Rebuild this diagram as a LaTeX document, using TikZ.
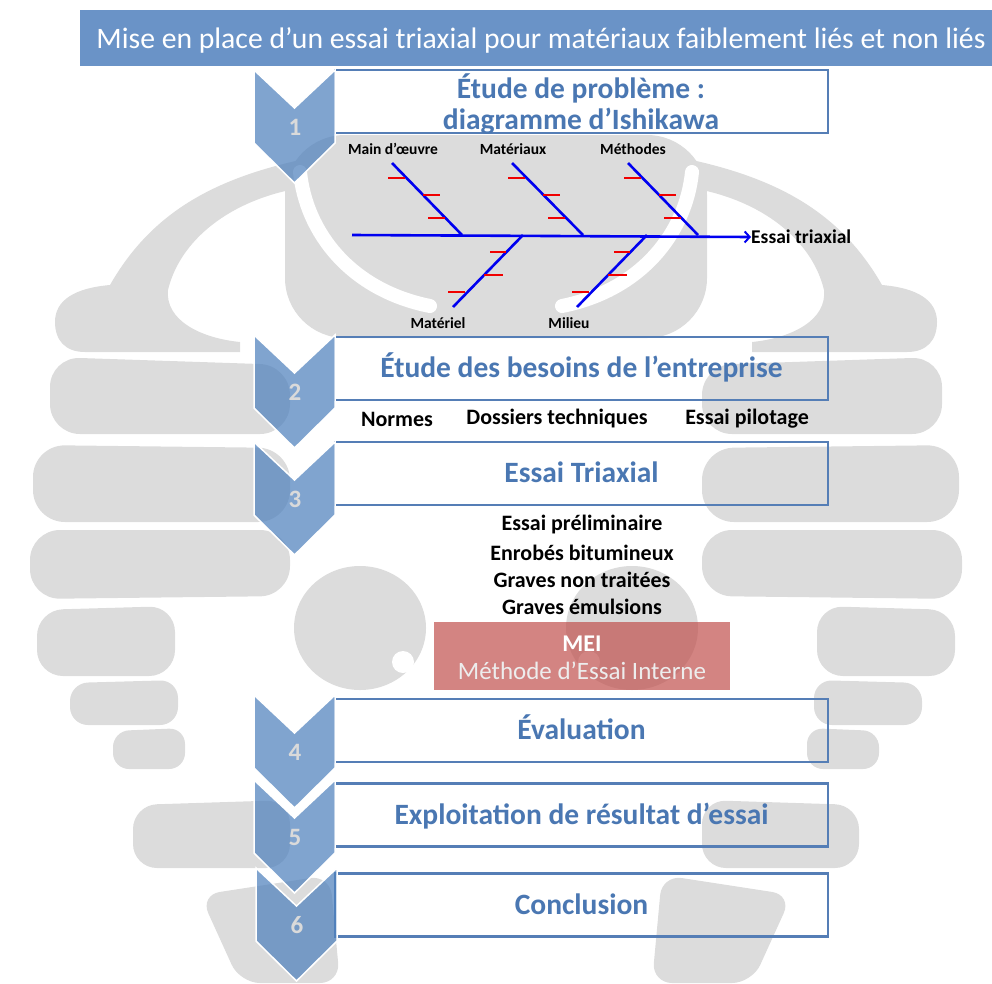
\documentclass[tikz,border=0pt]{standalone}
\usepackage{fontspec}
\setmainfont{Carlito}
\usetikzlibrary{arrows.meta}
\definecolor{barblue}{HTML}{6A93C7}
\definecolor{boxline}{HTML}{557EB6}
\definecolor{titleblue}{HTML}{4A77B2}
\definecolor{chev}{HTML}{4F81BD}
\definecolor{meired}{HTML}{C0504D}
\definecolor{numgray}{HTML}{DADADA}
\definecolor{fishblue}{HTML}{0000F0}
\definecolor{fishred}{HTML}{F00000}
\definecolor{wm}{HTML}{DCDCDC}
% one half of the background emblem; drawn twice, the second time mirrored
\newcommand\wingshapes{%
  \fill[wm] (55,322) .. controls (55,300) and (75,288) .. (110,285)
     .. controls (150,215) and (210,180) .. (300,160) -- (300,188)
     .. controls (230,200) and (180,240) .. (168,290)
     .. controls (165,320) and (200,338) .. (240,342) -- (240,352) -- (85,352)
     .. controls (65,352) and (55,340) .. (55,322) -- cycle;
  \draw[white, line width=14pt, line cap=round] (300,172) .. controls (306,232) and (350,290) .. (430,306);
  \fill[wm, rounded corners=30pt] (50,357) -- (290,365) -- (290,434) -- (50,434) -- cycle;
  \fill[wm, rounded corners=32pt] (33,445) -- (290,448) -- (290,522) -- (33,522) -- cycle;
  \fill[wm, rounded corners=30pt] (30,530) -- (290,530) -- (290,596) -- (30,599) -- cycle;
  \fill[wm, rounded corners=26pt] (37,610) -- (175,606) -- (175,676) -- (37,676) -- cycle;
  \fill[wm, rounded corners=18pt] (70,683) -- (178,680) -- (178,725) -- (70,725) -- cycle;
  \fill[wm, rounded corners=16pt] (113,731) -- (185,728) -- (185,769) -- (113,769) -- cycle;
  \fill[wm, rounded corners=24pt] (133,805) -- (290,800) -- (290,868) -- (133,868) -- cycle;
  \fill[wm, rounded corners=20pt] (200,895) -- (330,875) -- (340,983) -- (240,983) -- cycle;
  \fill[wm] (360,628) ellipse [x radius=66, y radius=62];
  \fill[white] (403,662) circle [radius=11];
}
\begin{document}
\begin{tikzpicture}[x=1pt,y=-1pt,
  stepbox/.style={draw=boxline, line width=2.6pt, minimum width=493pt, minimum height=63pt,
    inner sep=0pt, font=\fontsize{29.5}{31}\selectfont\bfseries, text=titleblue,
    text height=22pt, text depth=4pt},
  chevstyle/.style={fill=chev, fill opacity=0.72, draw=white, line width=1.5pt},
  numstyle/.style={font=\fontsize{25}{25}\selectfont\bfseries, text=numgray},
  bone/.style={draw=fishblue, line width=2.6pt},
  tickmark/.style={draw=fishred, line width=2.6pt},
  cause/.style={font=\fontsize{15.5}{17}\selectfont\bfseries, inner sep=0pt},
  item/.style={font=\fontsize{22}{24}\selectfont\bfseries, inner sep=0pt},
]
\useasboundingbox (0,0) rectangle (992,983);

% background emblem
\begin{scope}
  \clip (0,66) rectangle (992,983);
  \fill[wm, rounded corners=60pt] (285,135) rectangle (707,338);
  \wingshapes
  \begin{scope}[xshift=992pt, xscale=-1]
    \wingshapes
  \end{scope}
\end{scope}

% title bar
\node[fill=barblue, minimum width=912pt, minimum height=56pt, anchor=north west, inner sep=0pt] (titre) at (80,10) {};
\node[text=white, font=\fontsize{29.7}{32}\selectfont, inner sep=0pt] (titretxt) at (541,40)
  {Mise en place d’un essai triaxial pour matériaux faiblement liés et non liés};

% step frames
\node[stepbox] (b1) at (581.5,101.5) {};
\node[stepbox] (b2) at (581.5,368.5) {Étude des besoins de l’entreprise};
\node[stepbox] (b3) at (581.5,473.5) {Essai Triaxial};
\node[stepbox] (b4) at (581.5,730.5) {Évaluation};
\node[stepbox] (b5) at (581.5,815)   {Exploitation de résultat d’essai};
\node[stepbox] (b6) at (581.5,905)   {Conclusion};
\node[font=\fontsize{29.5}{31}\selectfont\bfseries, text=titleblue, align=center, inner sep=0pt]
  (t1) at (581,104) {Étude de problème :\\diagramme d’Ishikawa};

% numbered chevrons
\foreach \t/\n/\xl in {70/1/254, 335/2/254, 442/3/254, 695/4/254, 780/5/254, 868/6/256} {
  \filldraw[chevstyle] (\xl,\t) -- ++(40.5,38) -- ++(40.5,-38) -- ++(0,73)
    -- ++(-40.5,40) -- ++(-40.5,-40) -- cycle;
  \node[numstyle] (n\n) at (\xl+41,\t+57) {\n};
}

% Ishikawa diagram
\node[inner sep=0pt, anchor=west, font=\fontsize{19.5}{21}\selectfont\bfseries] (effet) at (751,237) {Essai triaxial};
\coordinate (sp0) at (352,235);
\draw[bone, -{Straight Barb[length=5pt,width=11pt,line width=2pt]}] (sp0) -- (effet.west);

\foreach \sx/\ex [count=\i] in {392/462, 512/583, 628/698} {
  \coordinate (ua\i) at (\sx,163);
  \coordinate (ub\i) at (\ex,235);
  \draw[bone] (ua\i) -- (ub\i);
  \draw[tickmark] (\sx-4,178) -- (\sx+13,178);
  \draw[tickmark] (\sx+31,195) -- (\sx+48,195);
  \draw[tickmark] (\sx+36,218) -- (\sx+53,218);
}
\foreach \sx/\ex [count=\i] in {453/523, 577/647} {
  \coordinate (la\i) at (\sx,307);
  \coordinate (lb\i) at (\ex,235);
  \draw[bone] (la\i) -- (lb\i);
  \draw[tickmark] (\sx+37,252) -- (\sx+53,252);
  \draw[tickmark] (\sx+31,275) -- (\sx+50,275);
  \draw[tickmark] (\sx-5,292) -- (\sx+12,292);
}
\node[cause] (c1) at (393,149) {Main d’œuvre};
\node[cause] (c2) at (513,149) {Matériaux};
\node[cause] (c3) at (633,149) {Méthodes};
\node[cause] (c4) at (438,323) {Matériel};
\node[cause] (c5) at (569,323) {Milieu};

% company needs
\node[item] (r1) at (397,419) {Normes};
\node[item] (r2) at (557,419) {Dossiers techniques};
\node[item] (r3) at (747,419) {Essai pilotage};

% triaxial test list
\node[item] (e1) at (582,525) {Essai préliminaire};
\node[item] (e2) at (582,553) {Enrobés bitumineux};
\node[item] (e3) at (582,580) {Graves non traitées};
\node[item] (e4) at (582,607) {Graves émulsions};

% internal test method
\fill[meired, fill opacity=0.7] (434,622) rectangle (730,690);
\node[font=\fontsize{24}{26}\selectfont\bfseries, text=white, inner sep=0pt] (mei) at (582,644) {MEI};
\node[font=\fontsize{25}{27}\selectfont, text=white!93!black, inner sep=0pt] (meit) at (582,671) {Méthode d’Essai Interne};
\end{tikzpicture}
\end{document}
